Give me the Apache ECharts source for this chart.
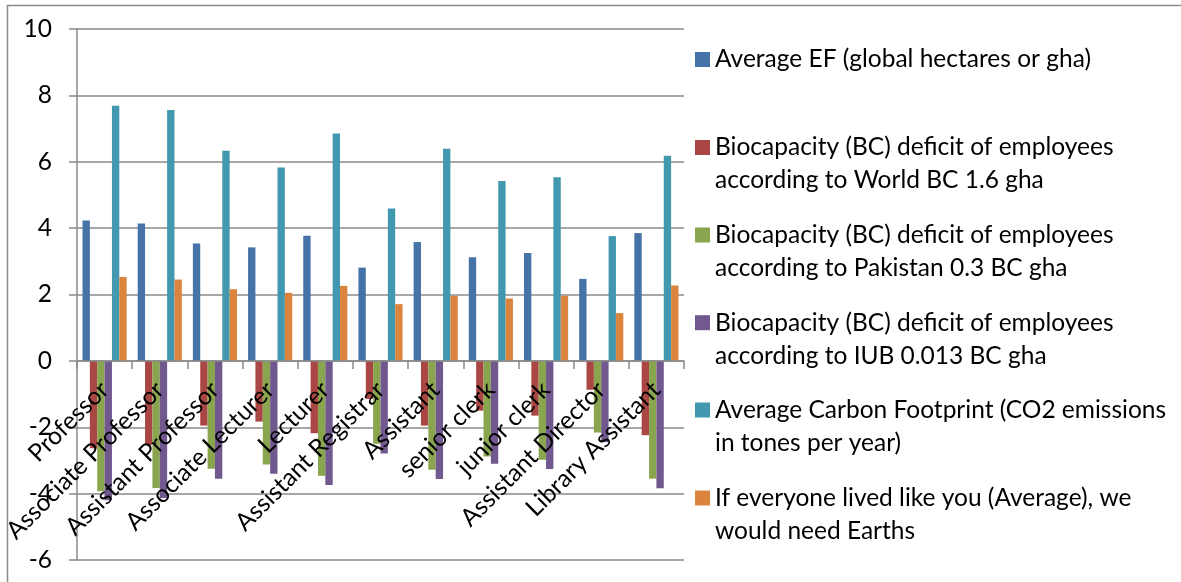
<!DOCTYPE html>
<html>
<head>
<meta charset="utf-8">
<script src="https://cdn.jsdelivr.net/npm/echarts@6/dist/echarts.min.js"></script>
<style>
html,body{margin:0;padding:0;background:#fff;}
#chart{width:1181px;height:582px;}
</style>
</head>
<body>
<div id="chart"></div>
<script>
// ---- data ----
var categories = ['Professor','Associate Professor','Assistant Professor','Associate Lecturer','Lecturer','Assistant Registrar','Assistant','senior clerk','junior clerk','Assistant Director','Library Assistant'];
var avgEF =           [4.23, 4.14, 3.54, 3.42, 3.77, 2.81, 3.58, 3.12, 3.25, 2.47, 3.85];
var deficitWorld =    [-2.63, -2.54, -1.95, -1.83, -2.18, -1.15, -1.95, -1.50, -1.65, -0.87, -2.24];
var deficitPakistan = [-3.93, -3.83, -3.25, -3.12, -3.46, -2.50, -3.28, -2.88, -2.98, -2.16, -3.55];
var deficitIUB =      [-4.20, -4.13, -3.55, -3.40, -3.74, -2.79, -3.56, -3.10, -3.26, -2.45, -3.84];
var carbon =          [7.69, 7.56, 6.33, 5.83, 6.85, 4.59, 6.39, 5.42, 5.53, 3.76, 6.18];
var earths =          [2.53, 2.45, 2.16, 2.05, 2.26, 1.71, 1.96, 1.88, 1.96, 1.44, 2.27];
var seriesNames = [
  'Average EF (global hectares or gha)',
  'Biocapacity (BC) deficit of employees\naccording to World BC 1.6 gha',
  'Biocapacity (BC) deficit of employees\naccording to Pakistan 0.3 BC gha',
  'Biocapacity (BC) deficit of employees\naccording to IUB 0.013 BC gha',
  'Average Carbon Footprint (CO2 emissions\nin tones per year)',
  'If everyone lived like you (Average), we\nwould need Earths'
];
var yTicks = {min: -6, max: 10, interval: 2};

// ---- styles ----
var colors = ['#4572A7','#AA4643','#89A54E','#71588F','#4198AF','#DB843D'];
var FONT = 'Lato, "Open Sans", sans-serif';
var FS = 24.5;
var values = [avgEF, deficitWorld, deficitPakistan, deficitIUB, carbon, earths];
var legendCenters = [59.5, 147.5, 235, 322.7, 410, 498];
var GRID = {left: 77, right: 497, top: 29, bottom: 22};
var gridH = 582 - GRID.top - GRID.bottom;
// x axis sits on the zero line (Excel "axis crosses at 0")
var zeroOffset = -gridH * (0 - yTicks.min) / (yTicks.max - yTicks.min);

var chart = echarts.init(document.getElementById('chart'), null, {renderer: 'canvas'});
var series = seriesNames.map(function (n, i) {
  return {
    name: n, type: 'bar', data: values[i],
    barGap: '0%', barCategoryGap: '20%',
    itemStyle: {color: colors[i]}
  };
});
var legends = seriesNames.map(function (n, i) {
  var twoLine = n.indexOf('\n') >= 0;
  return {
    orient: 'vertical', left: 695, top: legendCenters[i] - (twoLine ? 49.5 : 16.5), padding: 0,
    itemWidth: 15, itemHeight: 15, icon: 'rect', selectedMode: false,
    data: [n],
    formatter: function (name) { return name.indexOf('\n') >= 0 ? ' \n' + name : name; },
    textStyle: {fontFamily: FONT, fontSize: FS, color: '#000', lineHeight: 33}
  };
});

chart.setOption({
  animation: false,
  color: colors,
  graphic: [{
    type: 'rect', silent: true, z: -10,
    shape: {x: 7.5, y: 5.5, width: 1300, height: 700},
    style: {fill: 'none', stroke: '#8a8a8a', lineWidth: 1.5}
  }],
  grid: {left: GRID.left, right: GRID.right, top: GRID.top, bottom: GRID.bottom, containLabel: false, outerBoundsMode: 'none'},
  legend: legends,
  xAxis: {
    type: 'category', data: categories, z: 5, position: 'bottom', offset: zeroOffset,
    axisLine: {onZero: false, lineStyle: {color: '#8a8a8a', width: 1.5}},
    axisTick: {show: true, length: 8, alignWithLabel: false, lineStyle: {color: '#8a8a8a', width: 1.5}},
    axisLabel: {
      interval: 0, rotate: 45, margin: 25, color: '#000',
      fontFamily: FONT, fontSize: FS, padding: [33, 0, 0, 0]
    },
    splitLine: {show: false}
  },
  yAxis: {
    type: 'value', min: yTicks.min, max: yTicks.max, interval: yTicks.interval,
    axisLine: {show: true, lineStyle: {color: '#8a8a8a', width: 1.5}},
    axisTick: {show: true, length: 8, lineStyle: {color: '#8a8a8a', width: 1.5}},
    axisLabel: {margin: 25, color: '#000', fontFamily: FONT, fontSize: FS},
    splitLine: {show: true, lineStyle: {color: '#8a8a8a', width: 1.5}}
  },
  series: series
});
</script>
</body>
</html>
